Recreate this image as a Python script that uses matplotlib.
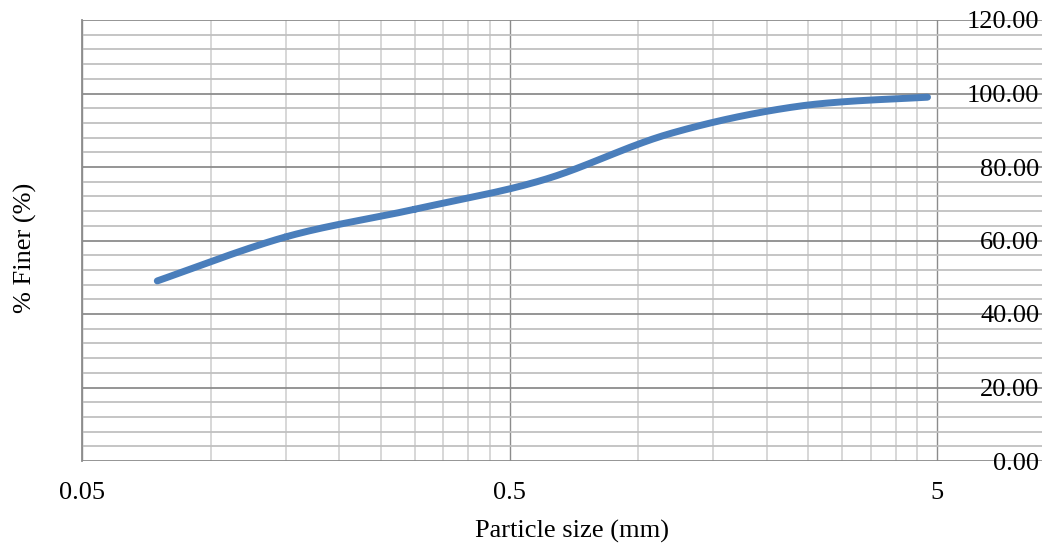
import numpy as np
import matplotlib
matplotlib.use("Agg")
import matplotlib.pyplot as plt
from matplotlib.ticker import FixedLocator, MultipleLocator, NullFormatter

# sieve sizes (mm) and percent passing
sizes = [0.075, 0.15, 0.3, 0.6, 1.18, 2.36, 4.75]
finer = [49.0, 61.0, 68.5, 76.5, 89.0, 96.5, 99.0]

x_ticks = [0.05, 0.5, 5]
x_ticklabels = ["0.05", "0.5", "5"]
y_ticks = [0, 20, 40, 60, 80, 100, 120]

plt.rcParams['font.family'] = ['Liberation Serif', 'DejaVu Serif']
fs = 19


def smooth(xs, ys, n=40):
    # catmull-rom through the points, done in log-x space like a spreadsheet smoothed line
    lx = np.log10(xs)
    ys = np.asarray(ys, dtype=float)
    px = np.concatenate([[lx[0]], lx, [lx[-1]]])
    py = np.concatenate([[ys[0]], ys, [ys[-1]]])
    out_x, out_y = [], []
    for i in range(1, len(px) - 2):
        t = np.linspace(0, 1, n)
        for arr, out in ((px, out_x), (py, out_y)):
            p0, p1, p2, p3 = arr[i - 1], arr[i], arr[i + 1], arr[i + 2]
            out.extend(0.5 * (2 * p1 + (-p0 + p2) * t
                              + (2 * p0 - 5 * p1 + 4 * p2 - p3) * t ** 2
                              + (-p0 + 3 * p1 - 3 * p2 + p3) * t ** 3))
    return 10 ** np.array(out_x), np.array(out_y)


fig = plt.figure(figsize=(10.58, 5.48), dpi=100)
ax = fig.add_axes([82 / 1058, 87 / 548, 960 / 1058, 441 / 548])

ax.set_xscale('log')
ax.set_xlim(0.05, 8.8)
ax.set_ylim(0, 120)

minor_x = [k * 0.05 * 10 ** d for d in range(2) for k in range(2, 10)]
ax.xaxis.set_major_locator(FixedLocator(x_ticks))
ax.xaxis.set_minor_locator(FixedLocator(minor_x))
ax.xaxis.set_minor_formatter(NullFormatter())
ax.set_xticks(x_ticks)
ax.set_xticklabels(x_ticklabels)

ax.yaxis.set_major_locator(FixedLocator(y_ticks))
ax.yaxis.set_minor_locator(MultipleLocator(4))
ax.set_yticklabels([f"{v:.2f}" for v in y_ticks])

ax.grid(which='major', axis='y', color='#8c8c8c', lw=1.3)
ax.grid(which='minor', axis='y', color='#c0c0c0', lw=1.3)
ax.grid(which='major', axis='x', color='#8c8c8c', lw=1.0)
ax.grid(which='minor', axis='x', color='#d4d4d4', lw=1.3)
ax.set_axisbelow(True)

for s in ['top', 'right', 'bottom']:
    ax.spines[s].set_visible(False)
ax.spines['left'].set_color('#8c8c8c')
ax.spines['left'].set_linewidth(1.3)

ax.tick_params(axis='x', which='both', length=0, labelsize=fs, pad=15)
ax.tick_params(axis='y', which='both', length=0, labelsize=fs,
               left=False, labelleft=False, right=False, labelright=True, pad=-2)
for lab in ax.get_yticklabels():
    lab.set_horizontalalignment('right')

sx, sy = smooth(sizes, finer)
ax.plot(sx, sy, color='#4a7ebb', lw=5, solid_capstyle='round', zorder=3)

fig.text(572 / 1058, 1 - 531 / 548, 'Particle size (mm)', ha='center', va='center', fontsize=fs)
fig.text(25 / 1058, 1 - 248 / 548, '% Finer (%)', ha='center', va='center',
         rotation=90, fontsize=fs)

fig.savefig('out.png', dpi=100)
